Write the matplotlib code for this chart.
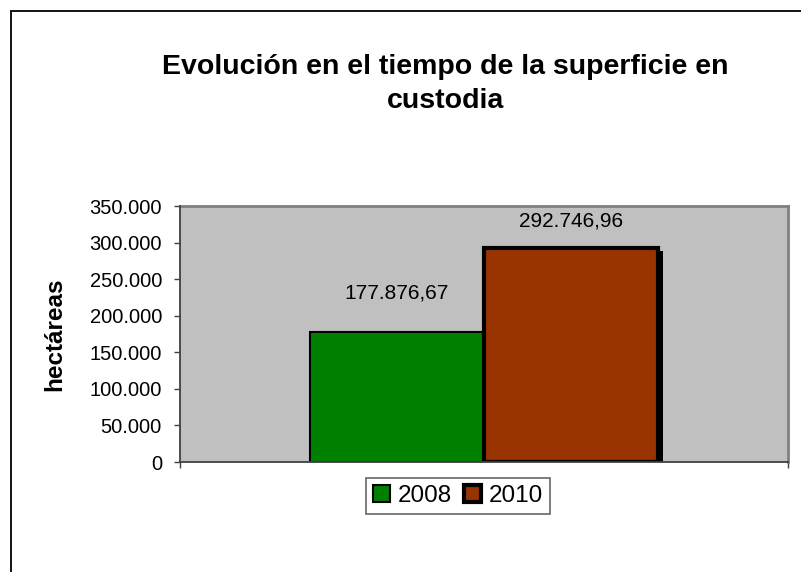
import matplotlib
matplotlib.use("Agg")
import matplotlib.pyplot as plt
from matplotlib.patches import Rectangle
from matplotlib.ticker import FuncFormatter, MultipleLocator
import matplotlib.patheffects as pe

plt.rcParams['font.family'] = ['Liberation Sans', 'DejaVu Sans']

years = ["2008", "2010"]
values = [177876.67, 292746.96]
colors = ["#008000", "#993300"]
title = "Evolución en el tiempo de la superficie en\ncustodia"
ylabel = "hectáreas"

def eu(v, dec=0):
    s = f"{v:,.{dec}f}"
    return s.replace(",", "X").replace(".", ",").replace("X", ".")

fig = plt.figure(figsize=(8.01, 5.72), dpi=100)
fig.patch.set_facecolor("white")

# outer chart frame
fig.patches.append(Rectangle((10.5/801, -0.1), 1.2, (572-10.5)/572 + 0.1,
                             transform=fig.transFigure, fill=False,
                             edgecolor="black", linewidth=1.3))

ax = fig.add_axes([180/801, (572-462)/572, (788-180)/801, (462-206)/572])
ax.set_facecolor("#C0C0C0")

width = 174/608
offsets = [-width/2, width/2]
lws = [1.5, 3.0]
label_off = [28, 19.5]
for i, (yr, v, c) in enumerate(zip(years, values, colors)):
    kw = {}
    if i == 1:
        kw['path_effects'] = [pe.SimplePatchShadow(offset=(3.5, -2), shadow_rgbFace='black', alpha=1), pe.Normal()]
    ax.bar(offsets[i], v, width=width, color=c, edgecolor="black",
           linewidth=lws[i], label=yr, zorder=3, **kw)
    ax.annotate(eu(v, 2), (offsets[i], v), xytext=(0, label_off[i]),
                textcoords="offset points", ha="center", va="center",
                fontsize=15, zorder=5)

ax.set_xlim(-0.5, 0.5)
ax.set_ylim(0, 350000)
ax.yaxis.set_major_locator(MultipleLocator(50000))
ax.yaxis.set_major_formatter(FuncFormatter(lambda v, p: eu(v)))
ax.set_xticks([-0.5, 0.5])
ax.set_xticklabels(["", ""])
ax.tick_params(axis="both", direction="out", length=4, width=1, color="#404040",
               labelsize=14.5)
ax.tick_params(axis="y", pad=9)

for s in ["top", "right"]:
    ax.spines[s].set_color("#808080")
    ax.spines[s].set_linewidth(2)
for s in ["left", "bottom"]:
    ax.spines[s].set_color("#404040")
    ax.spines[s].set_linewidth(1.3)
    ax.spines[s].set_zorder(6)

ax.set_ylabel(ylabel, fontsize=17.5, fontweight="bold")
ax.yaxis.set_label_coords(-0.1875, 0.5)

fig.text(445/801, 1 - 84/572, title, ha="center", va="center",
         fontsize=20.5, fontweight="bold", linespacing=1.35)

leg = fig.legend(loc="center", bbox_to_anchor=(458/801, 1 - 496/572),
                 ncol=2, fontsize=17.5, frameon=True, fancybox=False,
                 edgecolor="#404040", handlelength=0.7, handleheight=0.7,
                 handletextpad=0.3, columnspacing=0.5, borderpad=0.3,
                 borderaxespad=0)
leg.get_frame().set_linewidth(1.2)
for h, lw in zip(leg.legend_handles, [1.5, 3.0]):
    h.set_linewidth(lw)
    h.set_path_effects([])

fig.savefig("out.png", dpi=100)
